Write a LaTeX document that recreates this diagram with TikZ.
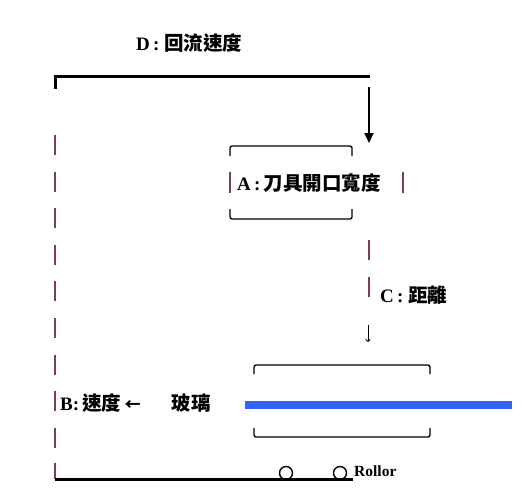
\documentclass[tikz,border=0pt]{standalone}
\usepackage{fontspec}
\setmainfont{Liberation Serif}
\newfontfamily\cjk{Noto Sans CJK TC}
\usetikzlibrary{arrows.meta}
\definecolor{dashred}{RGB}{128,62,72}
\definecolor{glassblue}{RGB}{50,100,250}
\newcommand\zh[1]{{\cjk\bfseries\fontsize{19.5}{21}\selectfont #1}}
\begin{document}
\begin{tikzpicture}[x=1pt,y=-1pt,
  lbl/.style={anchor=west,inner sep=0pt,font=\fontsize{19}{21}\selectfont\bfseries},
  bracket/.style={line width=1.3pt,rounded corners=2pt},
  dashside/.style={dashred,line width=1.2pt},
  dashline/.style={dashred,line width=1.2pt,dash pattern=on 20pt off 16.6pt},
  thick line/.style={line width=3pt},
  roller/.style={circle,draw,line width=1.4pt,minimum size=13pt,inner sep=0pt}]
\useasboundingbox (0,0) rectangle (524,500);
% labels
\node[lbl] (D) at (136,43) {D\,:\ \zh{回流速度}};
\node[lbl] (A) at (237,183) {A\,:\,\zh{刀具開口寬度}};
\node[lbl] (C) at (380,295) {C\,:\ \zh{距離}};
\node[lbl] (B) at (60,403) {B:\,\zh{速度}\,{\cjk\fontsize{16}{18}\selectfont ←}\hspace{31pt}\zh{玻璃}};
\node[anchor=west,inner sep=0pt,font=\fontsize{15.5}{17}\selectfont\bfseries] (R) at (354,471) {Rollor};
% top return line
\coordinate (tl) at (55,77);
\coordinate (tr) at (370,77);
\draw[thick line] (55,89) -- (tl) -- (tr);
\coordinate (arrS) at (369,87);
\coordinate (arrE) at (369,143);
\draw[line width=2pt,-{Triangle[width=9pt,length=10pt]}] (arrS) -- (arrE);
% left dashed line
\draw[dashline] (55,135) -- (55,450);
\draw[dashside] (55,463) -- (55,479);
% bottom line
\coordinate (bl) at (55,479);
\coordinate (br) at (353,479);
\draw[thick line] (bl) -- (br);
% rollers
\node[roller] (r1) at (286,473) {};
\node[roller] (r2) at (340,473) {};
% A box
\draw[bracket] (230,156) |- (352,146) -- (352,156);
\draw[bracket] (230,209) |- (352,219) -- (352,209);
\draw[dashside] (230,172) -- (230,193);
\draw[dashside] (403,172) -- (403,193);
% right dashed line
\draw[dashline] (369,240) -- (369,306);
\coordinate (cS) at (368,325);
\coordinate (cE) at (368,342);
\draw[line width=0.8pt,-{To[length=3pt,width=5pt]}] (cS) -- (cE);
% glass box
\draw[bracket] (254,374) |- (430,365) -- (430,374);
\draw[bracket] (254,428) |- (430,437) -- (430,428);
\coordinate (gS) at (245,405);
\coordinate (gE) at (512,405);
\draw[glassblue,line width=8pt] (gS) -- (gE);
\end{tikzpicture}
\end{document}
